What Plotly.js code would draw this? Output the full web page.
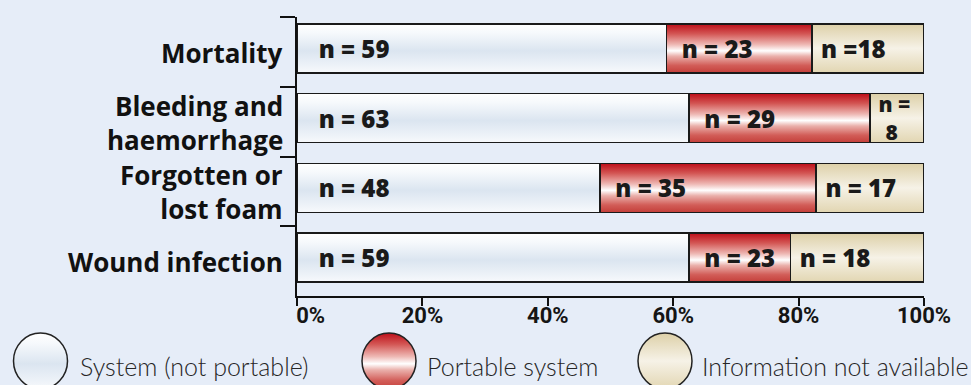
<!DOCTYPE html>
<html>
<head>
<meta charset="utf-8">
<script src="https://cdn.plot.ly/plotly-3.0.1.min.js"></script>
<style>
  html, body { margin: 0; padding: 0; background: #e6edf8; }
  #chart { width: 971px; height: 385px; }
</style>
</head>
<body>
<div id="chart"></div>
<script>
// ---------- data ----------
const categories = ["Mortality", "Bleeding and haemorrhage", "Forgotten or lost foam", "Wound infection"];
const categoryLabels = ["Mortality", "Bleeding and<br>haemorrhage", "Forgotten or<br>lost foam", "Wound infection"];
const seriesNames = ["System (not portable)", "Portable system", "Information not available"];
// bar lengths (% of bar)
const pctSystem   = [58.9, 62.5, 48.3, 62.5];
const pctPortable = [23.2, 28.9, 34.5, 16.2];
const pctNA       = [17.9,  8.6, 17.2, 21.3];
// labels printed in the bars
const textSystem   = ["n = 59", "n = 63", "n = 48", "n = 59"];
const textPortable = ["n = 23", "n = 29", "n = 35", "n = 23"];
const textNA       = ["n =18", "n =<br>8", "n = 17", "n = 18"];
const xTickVals = [0, 20, 40, 60, 80, 100];
const xTickText = ["\u00a0\u00a0\u00a0\u00a0\u00a00%", "20%", "40%", "60%", "80%", "100%"];

// ---------- layout helpers ----------
const W = 971, H = 385;
const M = { l: 297, r: 47, t: 17, b: 89 };
const plotW = W - M.l - M.r, plotH = H - M.t - M.b;
const pxX = px => (px - M.l) / plotW;
const pxY = py => (H - M.b - py) / plotH;

const baseColors = ["#eef3f9", "#d9534f", "#efe8d2"];
const gradients = [
  [[0, "#ffffff"], [0.18, "#f6f9fc"], [0.55, "#dbe5f0"], [0.85, "#edf2f8"], [1, "#f7f9fc"]],
  [[0, "#bd0e19"], [0.2, "#d35654"], [0.42, "#eeb8b4"], [0.55, "#ffffff"], [0.66, "#eab0ab"], [0.85, "#d25d58"], [1, "#c43f3a"]],
  [[0, "#ddd0a8"], [0.5, "#f6f2e7"], [1, "#e2d6b2"]]
];

const barFontFor = sizes => ({ family: "Open Sans", size: sizes, weight: 800, color: "#1a1a1a" });
const common = {
  type: "bar", orientation: "h", y: categories, width: 0.7, offset: -0.4,
  textposition: "inside", insidetextanchor: "start", constraintext: "none", textangle: 0,
  hoverinfo: "skip", showlegend: false, cliponaxis: false
};
const vals = [pctSystem, pctPortable, pctNA];
const texts = [textSystem, textPortable, textNA];
const prefixes = ["\u00a0\u00a0\u00a0", "\u00a0\u00a0", "\u00a0"];
const textSizes = [24, 24, [24, 21, 24, 24]];
const traces = vals.map((v, i) => Object.assign({}, common, {
  x: v, text: texts[i], name: seriesNames[i],
  texttemplate: prefixes[i] + "%{text}",
  textfont: barFontFor(textSizes[i]), insidetextfont: barFontFor(textSizes[i]),
  marker: { color: baseColors[i], line: { color: "#1a1a1a", width: 1.5 } }
}));

// category labels
const annotations = categoryLabels.map((lab, i) => ({
  xref: "paper", yref: "y", x: 0, y: categories[i], xanchor: "right", yanchor: "middle",
  xshift: -12, yshift: -1, align: "right",
  text: lab, showarrow: false,
  font: { family: "Open Sans", size: 26, weight: 700, color: "#111111" }
}));

// legend: ellipses + text
const legendCx = [40.5, 389, 665];
const legendTx = [78, 425, 700];
const shapes = legendCx.map((cx, i) => ({
  type: "circle", xref: "paper", yref: "paper", layer: "above",
  x0: pxX(cx - 27), x1: pxX(cx + 27), y0: pxY(389), y1: pxY(333),
  fillcolor: baseColors[i], line: { color: "#222222", width: 1.5 }
}));
seriesNames.forEach((nm, i) => {
  annotations.push({
    xref: "paper", yref: "paper", x: pxX(legendTx[i]), y: pxY(366),
    xanchor: "left", yanchor: "middle", text: nm, showarrow: false,
    font: { family: "Lato", size: 25, weight: 300, color: "#262626" }
  });
});

const layout = {
  width: W, height: H,
  margin: { l: M.l, r: M.r, t: M.t, b: M.b, pad: 0 },
  paper_bgcolor: "#e6edf8", plot_bgcolor: "#e6edf8",
  barmode: "stack", showlegend: false,
  xaxis: {
    range: [0, 100], tickvals: xTickVals, ticktext: xTickText,
    showgrid: false, zeroline: false, showline: true, linecolor: "#111", linewidth: 2,
    ticks: "outside", ticklen: 8, tickwidth: 2, tickcolor: "#111", ticklabelstandoff: -9,
    tickfont: { family: "Roboto", size: 22, weight: 700, color: "#151515" },
    fixedrange: true
  },
  yaxis: {
    type: "category", categoryorder: "array", categoryarray: categories,
    range: [3.5, -0.5], showticklabels: false, tickson: "boundaries",
    showgrid: false, zeroline: false, showline: true, linecolor: "#111", linewidth: 2,
    ticks: "outside", ticklen: 15, tickwidth: 2, tickcolor: "#111", fixedrange: true
  },
  shapes: shapes,
  annotations: annotations
};

Plotly.newPlot("chart", traces, layout, { staticPlot: true, displayModeBar: false }).then(gd => {
  const svg = gd.querySelector("svg.main-svg");
  const NS = "http://www.w3.org/2000/svg";
  let defs = svg.querySelector("defs");
  if (!defs) { defs = document.createElementNS(NS, "defs"); svg.insertBefore(defs, svg.firstChild); }
  gradients.forEach((stops, i) => {
    const lg = document.createElementNS(NS, "linearGradient");
    lg.setAttribute("id", "grad" + i);
    lg.setAttribute("x1", "0"); lg.setAttribute("y1", "0");
    lg.setAttribute("x2", "0"); lg.setAttribute("y2", "1");
    stops.forEach(s => {
      const st = document.createElementNS(NS, "stop");
      st.setAttribute("offset", s[0]);
      st.setAttribute("stop-color", s[1]);
      lg.appendChild(st);
    });
    defs.appendChild(lg);
  });
  gd.querySelectorAll(".barlayer .trace").forEach((g, i) => {
    g.querySelectorAll(".point path").forEach(p => { p.style.fill = "url(#grad" + i + ")"; });
  });
  gd.querySelectorAll(".shapelayer path").forEach(p => {
    const idx = +p.getAttribute("data-index");
    if (!isNaN(idx)) p.style.fill = "url(#grad" + idx + ")";
  });
});
</script>
</body>
</html>
